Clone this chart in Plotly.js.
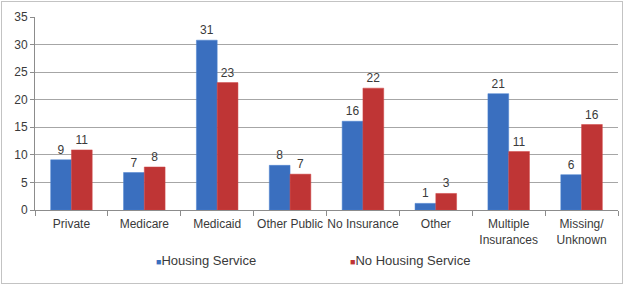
<!DOCTYPE html>
<html>
<head>
<meta charset="utf-8">
<script src="https://cdn.plot.ly/plotly-3.0.1.min.js"></script>
<style>
  body { margin: 0; padding: 1px; background: #fff; }
  #plot { width: 620px; height: 281px; border: 1px solid #c3c3c3; }
</style>
</head>
<body>
<div id="plot"></div>
<script>
// insurance categories and the two series (bar heights + printed labels)
let categories = ['Private', 'Medicare', 'Medicaid', 'Other Public', 'No Insurance',
                  'Other', 'Multiple<br>Insurances', 'Missing/<br>Unknown'];
let housing = [9.1, 6.8, 30.8, 8.1, 16.1, 1.2, 21.1, 6.4];
let housingLabels = ['9', '7', '31', '8', '16', '1', '21', '6'];
let noHousing = [10.9, 7.8, 23.1, 6.5, 22.1, 3.0, 10.6, 15.5];
let noHousingLabels = ['11', '8', '23', '7', '22', '3', '11', '16'];

let blue = '#3a6fbf';
let red = '#bf3535';
let labelFont = {family: 'Liberation Sans, Arial, sans-serif', size: 12, color: '#3a3a3a'};

function barTrace(y, labels, color, edge) {
  return {
    type: 'bar',
    x: categories,
    y: y,
    text: labels,
    textposition: 'outside',
    textfont: labelFont,
    cliponaxis: false,
    showlegend: false,
    marker: {color: color, line: {color: edge, width: 0.5}},
    hoverinfo: 'skip'
  };
}

// legend entries: tiny square drawn as part of the name, no symbol
function legendTrace(name, color) {
  return {
    type: 'scatter',
    mode: 'markers',
    x: [null], y: [null],
    marker: {size: 1, color: 'rgba(0,0,0,0)', line: {width: 0}},
    name: '<span style="color:' + color + ';font-size:9px">■</span>' + name,
    hoverinfo: 'skip'
  };
}

let data = [
  barTrace(housing, housingLabels, blue, '#4a80d0'),
  barTrace(noHousing, noHousingLabels, red, '#d04545'),
  legendTrace('Housing Service', blue),
  legendTrace('No Housing Service', red)
];

let layout = {
  margin: {l: 33, r: 4, t: 15, b: 73},
  paper_bgcolor: '#fff',
  plot_bgcolor: '#fff',
  font: labelFont,
  barmode: 'group',
  bargap: 0.43,
  bargroupgap: 0,
  showlegend: true,
  legend: {
    orientation: 'h',
    x: 0.139, xanchor: 'left',
    y: -0.26, yanchor: 'middle',
    font: {family: labelFont.family, size: 13, color: '#3a3a3a'},
    itemwidth: 30,
    entrywidth: 149, entrywidthmode: 'pixels'
  },
  xaxis: {
    type: 'category',
    tickson: 'boundaries',
    tickangle: 0,
    ticks: 'outside',
    ticklen: 5,
    ticklabelstandoff: 3,
    tickcolor: '#8c8c8c',
    showline: true,
    linecolor: '#8c8c8c',
    showgrid: false,
    tickfont: labelFont
  },
  yaxis: {
    range: [0, 35],
    dtick: 5,
    ticks: 'outside',
    ticklen: 4,
    tickcolor: '#8c8c8c',
    showline: true,
    linecolor: '#8c8c8c',
    gridcolor: '#a6a6a6',
    zeroline: false,
    tickfont: labelFont
  }
};

Plotly.newPlot('plot', data, layout, {displayModeBar: false, staticPlot: true});
</script>
</body>
</html>
